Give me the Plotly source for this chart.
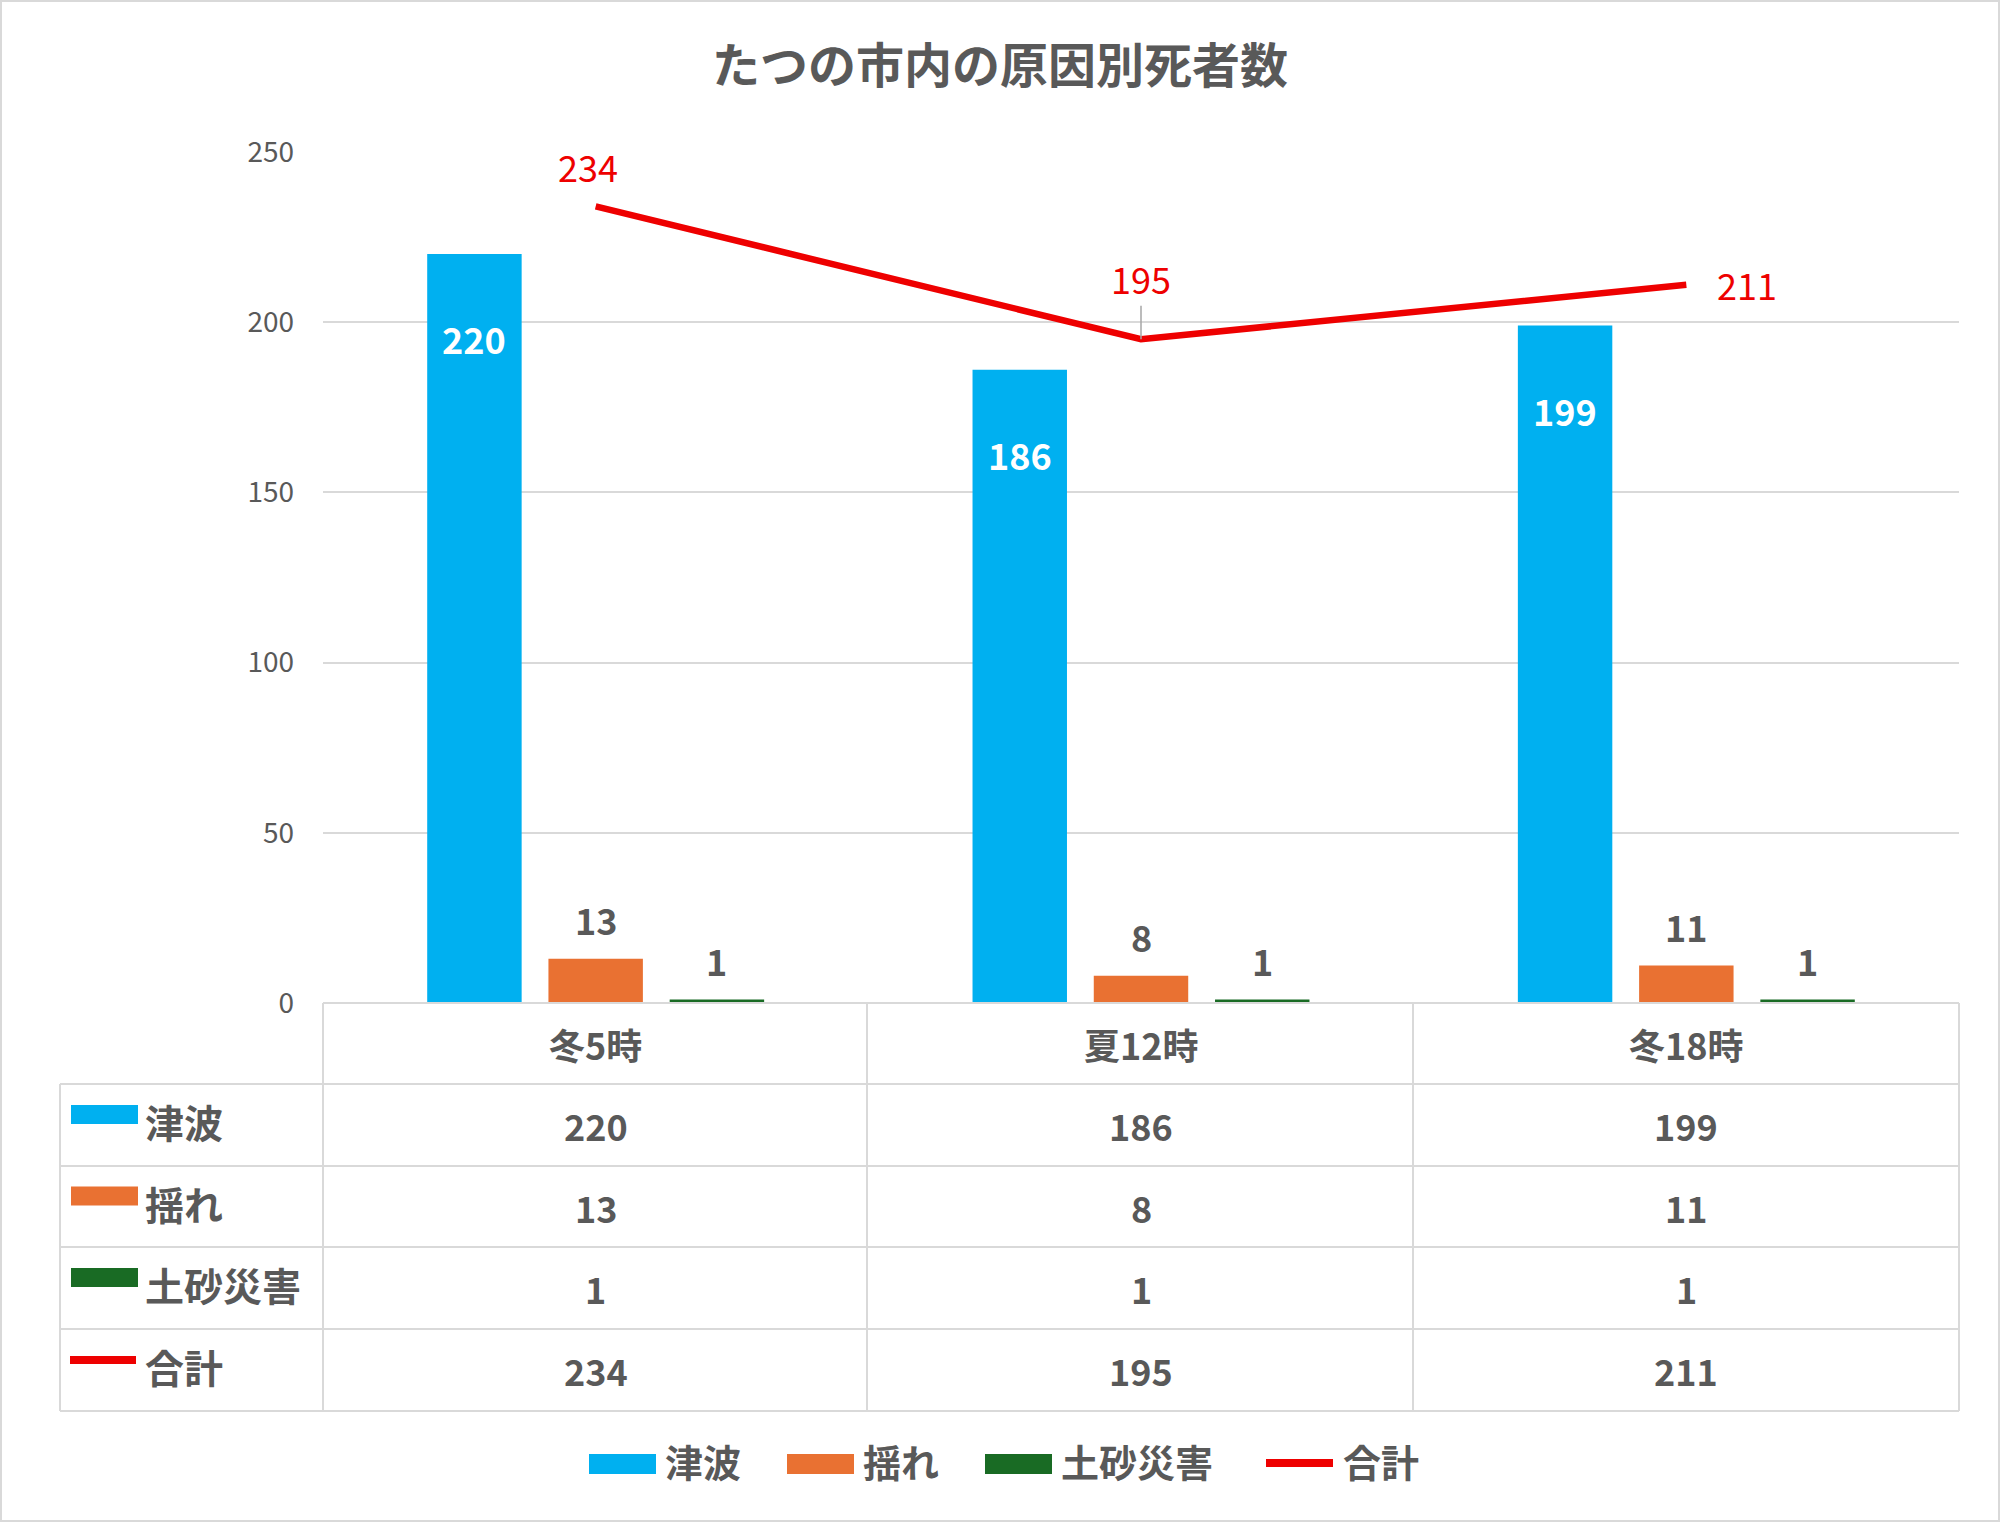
import plotly.graph_objects as go

# ---------------- data ----------------
categories = ["冬5時", "夏12時", "冬18時"]
series_names = ["津波", "揺れ", "土砂災害"]
tsunami = [220, 186, 199]
shaking = [13, 8, 11]
landslide = [1, 1, 1]
total = [234, 195, 211]
total_name = "合計"
title_text = "たつの市内の原因別死者数"
y_ticks = [0, 50, 100, 150, 200, 250]

bar_colors = ["#00B0F0", "#E97132", "#196B24"]
line_color = "#EE0000"
text_gray = "#595959"
grid_gray = "#D9D9D9"
FONT = "Noto Sans CJK JP"

# ---------------- layout geometry (pixels) ----------------
W, H = 2000, 1522
L, R, T, B = 323, 1959, 152, 1003


def px(x):
    return (x - L) / (R - L)


def py(y):
    return (B - y) / (B - T)


fig = go.Figure()
bar_series = [tsunami, shaking, landslide]
for name, vals, col in zip(series_names, bar_series, bar_colors):
    fig.add_trace(go.Bar(x=categories, y=vals, name=name, marker_color=col,
                         marker_line_width=0, hoverinfo="skip"))

fig.add_trace(go.Scatter(x=categories, y=total, name=total_name, mode="lines",
                         line=dict(color=line_color, width=6.5), hoverinfo="skip"))

annotations = []
shapes = []

# bar data labels
cat_w = (R - L) / len(categories)
slot = cat_w * (1 - 0.333) / 3
offsets = [-slot, 0, slot]
for si, vals in enumerate(bar_series):
    for c, v in zip(categories, vals):
        if si == 0:
            annotations.append(dict(x=c, y=v, xref="x", yref="y", text=str(v),
                                    showarrow=False, xshift=offsets[si], yshift=-84,
                                    yanchor="middle",
                                    font=dict(family=FONT, size=36, color="white", weight="bold")))
        else:
            annotations.append(dict(x=c, y=v, xref="x", yref="y", text=str(v),
                                    showarrow=False, xshift=offsets[si], yshift=40,
                                    yanchor="middle",
                                    font=dict(family=FONT, size=36, color=text_gray, weight="bold")))

# line labels
line_lab_font = dict(family=FONT, size=36, color=line_color)
annotations.append(dict(x=categories[0], y=total[0], xref="x", yref="y", text=str(total[0]),
                        showarrow=False, xshift=-8, yshift=40, font=line_lab_font))
annotations.append(dict(x=categories[1], y=total[1], xref="x", yref="y", text=str(total[1]),
                        showarrow=True, arrowhead=0, arrowwidth=1.5, arrowcolor="#A6A6A6",
                        ax=0, ay=-61, font=line_lab_font))
annotations.append(dict(x=categories[2], y=total[2], xref="x", yref="y", text=str(total[2]),
                        showarrow=False, xshift=61, yshift=1, font=line_lab_font))

# ---------------- data table ----------------
row_lines = [1084, 1166, 1247, 1329, 1411]
col_lines = [L, 867, 1413, R]
tbl_left = 60
line_style = dict(color=grid_gray, width=2)
shapes.append(dict(type="line", xref="paper", yref="paper", x0=px(L), x1=px(R),
                   y0=py(B), y1=py(B), line=line_style, layer="above"))
for yl in row_lines:
    shapes.append(dict(type="line", xref="paper", yref="paper", x0=px(tbl_left), x1=px(R),
                       y0=py(yl), y1=py(yl), line=line_style))
for xl in col_lines:
    shapes.append(dict(type="line", xref="paper", yref="paper", x0=px(xl), x1=px(xl),
                       y0=py(B), y1=py(row_lines[-1]), line=line_style))
shapes.append(dict(type="line", xref="paper", yref="paper", x0=px(tbl_left), x1=px(tbl_left),
                   y0=py(row_lines[0]), y1=py(row_lines[-1]), line=line_style))

tbl_font = dict(family=FONT, size=36, color=text_gray, weight="bold")
header_c = (B + row_lines[0]) / 2
for c in categories:
    annotations.append(dict(x=c, y=py(header_c), xref="x", yref="paper", text=c,
                            showarrow=False, font=tbl_font, yanchor="middle"))

table_rows = [tsunami, shaking, landslide, total]
row_names = series_names + [total_name]
for ri, (name, vals) in enumerate(zip(row_names, table_rows)):
    yc = (row_lines[ri] + row_lines[ri + 1]) / 2
    for c, v in zip(categories, vals):
        annotations.append(dict(x=c, y=py(yc), xref="x", yref="paper", text=str(v),
                                showarrow=False, font=tbl_font, yanchor="middle"))
    annotations.append(dict(x=px(143), y=py(yc - 4), xref="paper", yref="paper", text=name,
                            showarrow=False, xanchor="left", yanchor="middle",
                            font=dict(family=FONT, size=39, color=text_gray, weight="bold")))
    if ri < 3:
        shapes.append(dict(type="rect", xref="paper", yref="paper",
                           x0=px(71), x1=px(138), y0=py(yc - 20), y1=py(yc - 1),
                           fillcolor=bar_colors[ri], line=dict(width=0)))
    else:
        shapes.append(dict(type="line", xref="paper", yref="paper",
                           x0=px(70), x1=px(136), y0=py(yc - 10), y1=py(yc - 10),
                           line=dict(color=line_color, width=8)))

# ---------------- custom legend ----------------
leg_y = 1460
leg_items = [(589, 663, "rect", bar_colors[0], series_names[0]),
             (787, 861, "rect", bar_colors[1], series_names[1]),
             (985, 1059, "rect", bar_colors[2], series_names[2]),
             (1263, 1341, "line", line_color, total_name)]
for x0, tx, kind, col, name in leg_items:
    if kind == "rect":
        shapes.append(dict(type="rect", xref="paper", yref="paper",
                           x0=px(x0), x1=px(x0 + 67), y0=py(leg_y - 6), y1=py(leg_y + 14),
                           fillcolor=col, line=dict(width=0)))
    else:
        shapes.append(dict(type="line", xref="paper", yref="paper",
                           x0=px(x0 + 3), x1=px(x0 + 70), y0=py(leg_y + 3), y1=py(leg_y + 3),
                           line=dict(color=col, width=8)))
    annotations.append(dict(x=px(tx), y=py(leg_y), xref="paper", yref="paper", text=name,
                            showarrow=False, xanchor="left", yanchor="middle",
                            font=dict(family=FONT, size=38, color=text_gray, weight="bold")))

# outer border
shapes.append(dict(type="rect", xref="paper", yref="paper",
                   x0=px(1), x1=px(W - 1), y0=py(1), y1=py(H - 1),
                   line=dict(color=grid_gray, width=2)))

fig.update_layout(
    width=W, height=H,
    margin=dict(l=L, r=W - R, t=T, b=H - B, pad=0),
    paper_bgcolor="white", plot_bgcolor="white",
    barmode="group", bargap=0.333, bargroupgap=0.221,
    showlegend=False,
    title=dict(text=title_text, x=0.5, xref="container", xanchor="center",
               y=1 - 66 / H, yref="container", yanchor="middle",
               font=dict(family=FONT, size=48, color=text_gray, weight="bold")),
    xaxis=dict(showticklabels=False, showgrid=False, zeroline=False, showline=False),
    yaxis=dict(range=[0, 250], tickvals=y_ticks, showgrid=True, gridcolor=grid_gray,
               gridwidth=2, zeroline=False, showline=False,
               tickfont=dict(family=FONT, size=28, color=text_gray),
               ticks="", ticklabelstandoff=28),
    annotations=annotations,
    shapes=shapes,
)

fig.write_html("out.html", config={"displayModeBar": False},
               post_script="document.body.style.margin='0';document.body.style.overflow='hidden';")
